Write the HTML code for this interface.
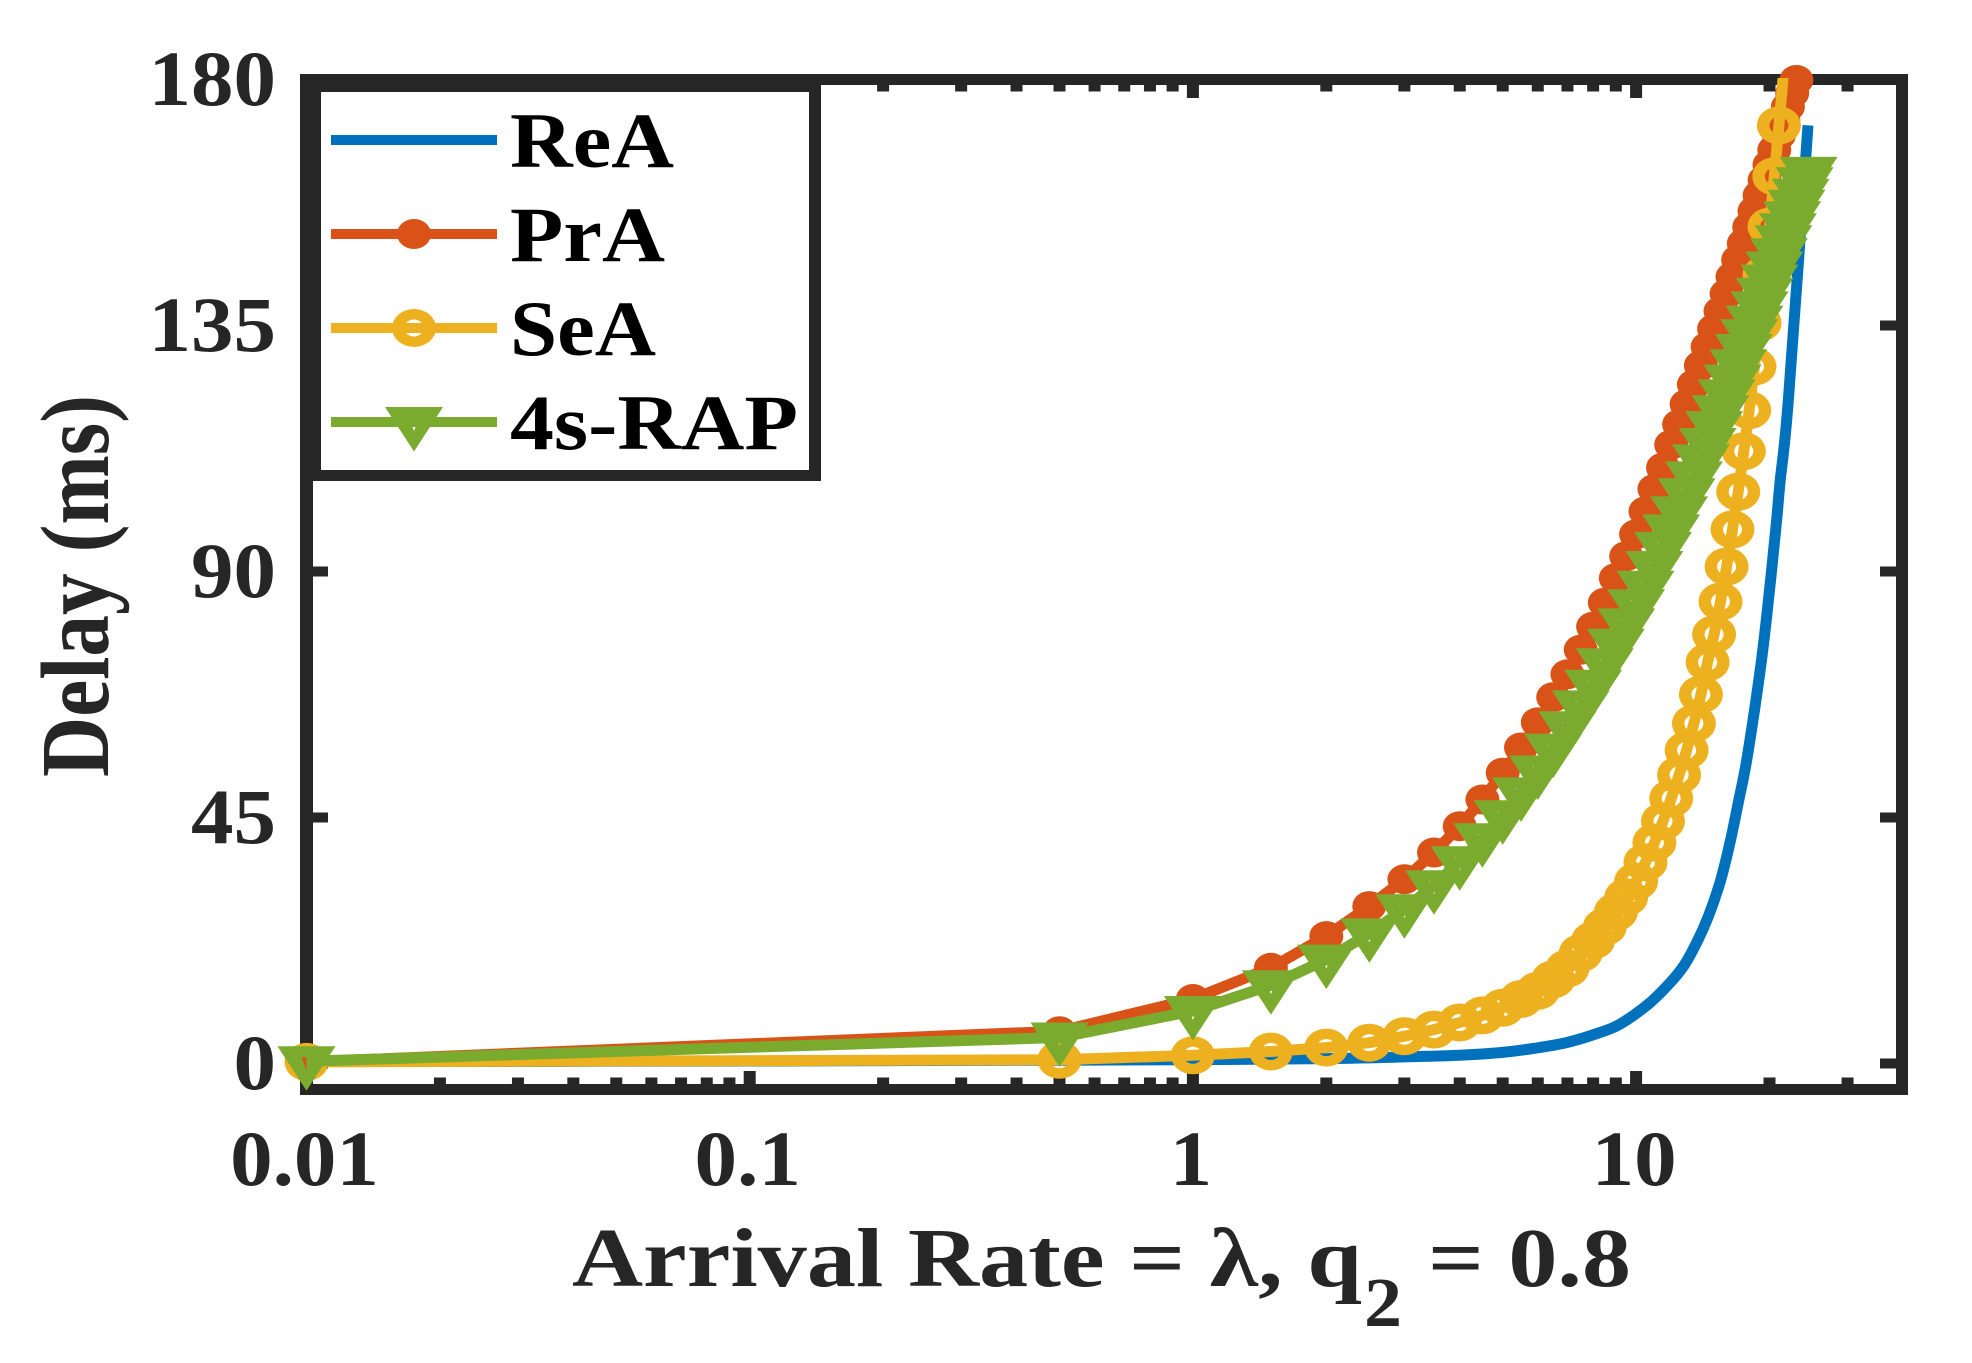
<!DOCTYPE html>
<html lang="en">
<head>
<meta charset="utf-8">
<title>Delay vs Arrival Rate</title>
<style>
html,body{margin:0;padding:0;background:#fff;}
svg{display:block;}
text{font-family:"Liberation Serif","DejaVu Serif",serif;font-weight:bold;}
</style>
</head>
<body>
<svg id="chart" xmlns="http://www.w3.org/2000/svg" width="1972" height="1363" viewBox="0 0 1972 1363">
  <rect x="0" y="0" width="1972" height="1363" fill="#fff"/>
  <defs><clipPath id="plot-clip"><rect x="306" y="78" width="1596" height="1012"/></clipPath></defs>
  <g id="axes"></g>
  <g id="series"></g>
  <g id="legend"></g>
  <text x="572" y="1286" font-size="84" fill="#262626" textLength="790" lengthAdjust="spacingAndGlyphs">Arrival Rate = λ, q</text>
  <text x="1364" y="1326" font-size="70" fill="#262626" textLength="38" lengthAdjust="spacingAndGlyphs">2</text>
  <text x="1428" y="1286" font-size="84" fill="#262626" textLength="203" lengthAdjust="spacingAndGlyphs">= 0.8</text>
  <text transform="translate(108,777) rotate(-90) scale(1,1.18)" x="0" y="0" font-size="83" fill="#262626" textLength="382" lengthAdjust="spacingAndGlyphs">Delay (ms)</text>
</svg>
<script>
const xTickValues = [0.01, 0.1, 1, 10];
const xTickLabels = ['0.01', '0.1', '1', '10'];
const xMinorValues = [0.02,0.03,0.04,0.05,0.06,0.07,0.08,0.09,0.2,0.3,0.4,0.5,0.6,0.7,0.8,0.9,2,3,4,5,6,7,8,9,20,30];
const yTickValues = [0, 45, 90, 135, 180];
const yTickLabels = ['0', '45', '90', '135', '180'];

const markerRates = [0.01,0.5,1,1.5,2,2.5,3,3.5,4,4.5,5,5.5,6,6.5,7,7.5,8,8.5,9,9.5,10,10.5,11,11.5,12,12.5,13,13.5,14,14.5,15,15.5,16,16.5,17,17.5,18,18.5,19,19.5,20,20.5,21,21.5,22,22.5,23,23.5,24,24.5];
const reaRates = [0.01,0.1,0.5,1,2,3,4,4.93,5.85,6.98,8.29,9.2,10.56,11.72,12.78,13.7,14.55,15.46,16.29,17.01,17.77,18.97,19.71,20.69,21.12,22.06,24.43];
const reaDelay = [0.35,0.45,0.6,0.7,0.9,1.2,1.5,2,2.74,3.84,5.67,7.2,10.6,14.09,17.74,22.13,26.89,33.11,40.43,47.75,55.6,70.8,81.8,98.2,106.3,121.5,171.6];
const praDelay = [0.3,5.9,11.8,17.5,23.3,28.8,33.7,38.6,43.4,48.3,53.2,57.8,62.4,67,71.2,75.7,79.9,84.3,88.8,92.8,96.8,101,105.1,109,113.2,116.9,120.6,124.2,127.7,131.1,134.4,137.6,140.8,143.9,147,150,153,155.9,158.8,161.6,164.4,167.1,169.8,172.4,175,177.5,179.9];
const seaDelay = [0.3,0.7,1.5,2.2,2.9,3.8,5,6.2,7.5,8.8,10.2,11.8,13.3,15.4,17.4,20.2,22.5,25,27.7,30.4,33.3,36.8,40.4,44.3,48.5,52.8,57.3,62.2,67.5,73.4,78.5,84.5,90.9,97.7,104.6,112,119.5,127.5,135.5,144.3,153.1,162.3,171.6,181];
const rapDelay = [0.4,4.75,9.6,14.3,19,23.8,28.2,32.6,37,41.2,45.4,49.6,53.6,57.6,61.7,65.5,69.3,73.2,76.8,80.5,84,87.4,91,94.5,97.7,101,104.3,107.4,110.5,113.5,116.6,119.5,122.4,125.1,127.9,130.7,133.4,135.9,138.5,141,143.4,145.8,148.2,150.6,152.8,155,157.1,159.1,161.2,163.1];
const legendLabels = ['ReA', 'PrA', 'SeA', '4s-RAP'];

const NS = 'http://www.w3.org/2000/svg';
const INK = '#262626';
const BLUE = '#0072BD', ORANGE = '#D95319', YELLOW = '#EDB120', GREEN = '#7AAB2E';

function xScale(v) { return 306.5 + 443.2 * (Math.log10(v) + 2); }
function yScale(v) { return 1063.5 - v * (246 / 45); }

function make(tag, parent, attrs) {
  const el = document.createElementNS(NS, tag);
  for (const k in attrs) el.setAttribute(k, attrs[k]);
  parent.appendChild(el);
  return el;
}

const axes = document.getElementById('axes');
const seriesG = document.getElementById('series');
const legend = document.getElementById('legend');

function frameSide(name, x, y, w, h) {
  const r = make('rect', axes, {x: x, y: y, width: w, height: h, fill: INK});
  
  
}
frameSide('axis-frame-left', 300, 74, 13, 1021);
frameSide('axis-frame-right', 1896, 74, 12, 1021);
frameSide('axis-frame-top', 300, 74, 1608, 11);
frameSide('axis-frame-bottom', 300, 1084, 1608, 11);

function xTick(v, len) {
  const x = xScale(v);
  const b = make('rect', axes, {x: x - 6, y: 1084 - len, width: 12, height: len, fill: INK});
  
  
  const t = make('rect', axes, {x: x - 6, y: 85, width: 12, height: len, fill: INK});
  
  
}
xMinorValues.forEach(function (v) { xTick(v, 6.5); });
xTickValues.forEach(function (v) { xTick(v, 13); });

yTickValues.forEach(function (v) {
  const y = yScale(v);
  const l = make('rect', axes, {x: 313, y: y - 5, width: 15, height: 10, fill: INK});
  
  
  const r = make('rect', axes, {x: 1880, y: y - 5, width: 16, height: 10, fill: INK});
  
  
});

xTickValues.forEach(function (v, i) {
  const t = make('text', axes, {x: xScale(v) - 2, y: 1185, 'font-size': 78, fill: INK, 'text-anchor': 'middle'});
  
  
  t.textContent = xTickLabels[i];
  t.setAttribute('lengthAdjust', 'spacingAndGlyphs');
  t.setAttribute('textLength', (t.getComputedTextLength() * 1.09).toFixed(1));
});

yTickValues.forEach(function (v, i) {
  const t = make('text', axes, {x: 276, y: yScale(v) + 25.5, 'font-size': 78, fill: INK, 'text-anchor': 'end'});
  
  
  t.textContent = yTickLabels[i];
  t.setAttribute('lengthAdjust', 'spacingAndGlyphs');
  t.setAttribute('textLength', (t.getComputedTextLength() * 1.09).toFixed(1));
});

const DOT_PATH = 'M-17,0A17,15 0 1,0 17,0A17,15 0 1,0 -17,0Z';
const RING_PATH = 'M-22,0A22,19 0 1,0 22,0A22,19 0 1,0 -22,0ZM-9.5,0A9.5,8.5 0 1,0 9.5,0A9.5,8.5 0 1,0 -9.5,0Z';
const TRI_PATH = 'M-29,-15L29,-15L0,29.5ZM-5,-4L5,-4L0,9Z';

function smoothPath(pts) {
  let d = 'M' + pts[0][0].toFixed(1) + ',' + pts[0][1].toFixed(1);
  for (let i = 0; i < pts.length - 1; i++) {
    const p0 = pts[Math.max(i - 1, 0)], p1 = pts[i], p2 = pts[i + 1], p3 = pts[Math.min(i + 2, pts.length - 1)];
    const c1x = p1[0] + (p2[0] - p0[0]) / 6, c1y = p1[1] + (p2[1] - p0[1]) / 6;
    const c2x = p2[0] - (p3[0] - p1[0]) / 6, c2y = p2[1] - (p3[1] - p1[1]) / 6;
    d += 'C' + c1x.toFixed(1) + ',' + c1y.toFixed(1) + ' ' + c2x.toFixed(1) + ',' + c2y.toFixed(1) + ' ' + p2[0].toFixed(1) + ',' + p2[1].toFixed(1);
  }
  return d;
}

function straightPath(pts) {
  return 'M' + pts.map(function (p) { return p[0].toFixed(1) + ',' + p[1].toFixed(1); }).join('L');
}

const blueLine = make('path', seriesG, {
  d: smoothPath(reaRates.map(function (r, i) { return [xScale(r), yScale(reaDelay[i])]; })),
  fill: 'none', stroke: BLUE, 'stroke-width': 11, 'clip-path': 'url(#plot-clip)'
});



function drawMarkedSeries(values, color, markerPath, lineName, markerName) {
  const pts = values.map(function (v, i) { return [xScale(markerRates[i]), yScale(v)]; });
  const line = make('path', seriesG, {
    d: straightPath(pts), fill: 'none', stroke: color, 'stroke-width': 11,
    'stroke-linejoin': 'round', 'clip-path': 'url(#plot-clip)'
  });
  
  
  values.forEach(function (v, i) {
    if (v > 180) return;
    const m = make('path', seriesG, {
      d: markerPath, fill: color, 'fill-rule': 'evenodd',
      transform: 'translate(' + pts[i][0].toFixed(1) + ',' + pts[i][1].toFixed(1) + ')'
    });
    
    
  });
}
drawMarkedSeries(praDelay, ORANGE, DOT_PATH, 'pra-line', 'pra-point');
drawMarkedSeries(seaDelay, YELLOW, RING_PATH, 'sea-line', 'sea-point');
drawMarkedSeries(rapDelay, GREEN, TRI_PATH, 'rap-line', 'rap-point');

const legendOuter = make('rect', legend, {x: 300, y: 74, width: 521, height: 407, fill: INK});


const legendInner = make('rect', legend, {x: 321, y: 92, width: 488, height: 378, fill: '#fff'});



const legendColors = [BLUE, ORANGE, YELLOW, GREEN];
const legendMarkers = [null, DOT_PATH, RING_PATH, TRI_PATH];
const legendWidths = [164, 155, 146, 288];
legendLabels.forEach(function (label, i) {
  const y = 140 + 94 * i;
  const sw = make('rect', legend, {x: 331, y: y - 5, width: 166, height: 10, fill: legendColors[i]});
  
  
  if (legendMarkers[i]) {
    const m = make('path', legend, {d: legendMarkers[i], fill: legendColors[i], 'fill-rule': 'evenodd', transform: 'translate(414,' + y + ')'});
    
    
  }
  const t = make('text', legend, {x: 510, y: y + 27, 'font-size': 78, fill: '#000', textLength: legendWidths[i], lengthAdjust: 'spacingAndGlyphs'});
  
  
  t.textContent = label;
});
</script>
</body>
</html>
